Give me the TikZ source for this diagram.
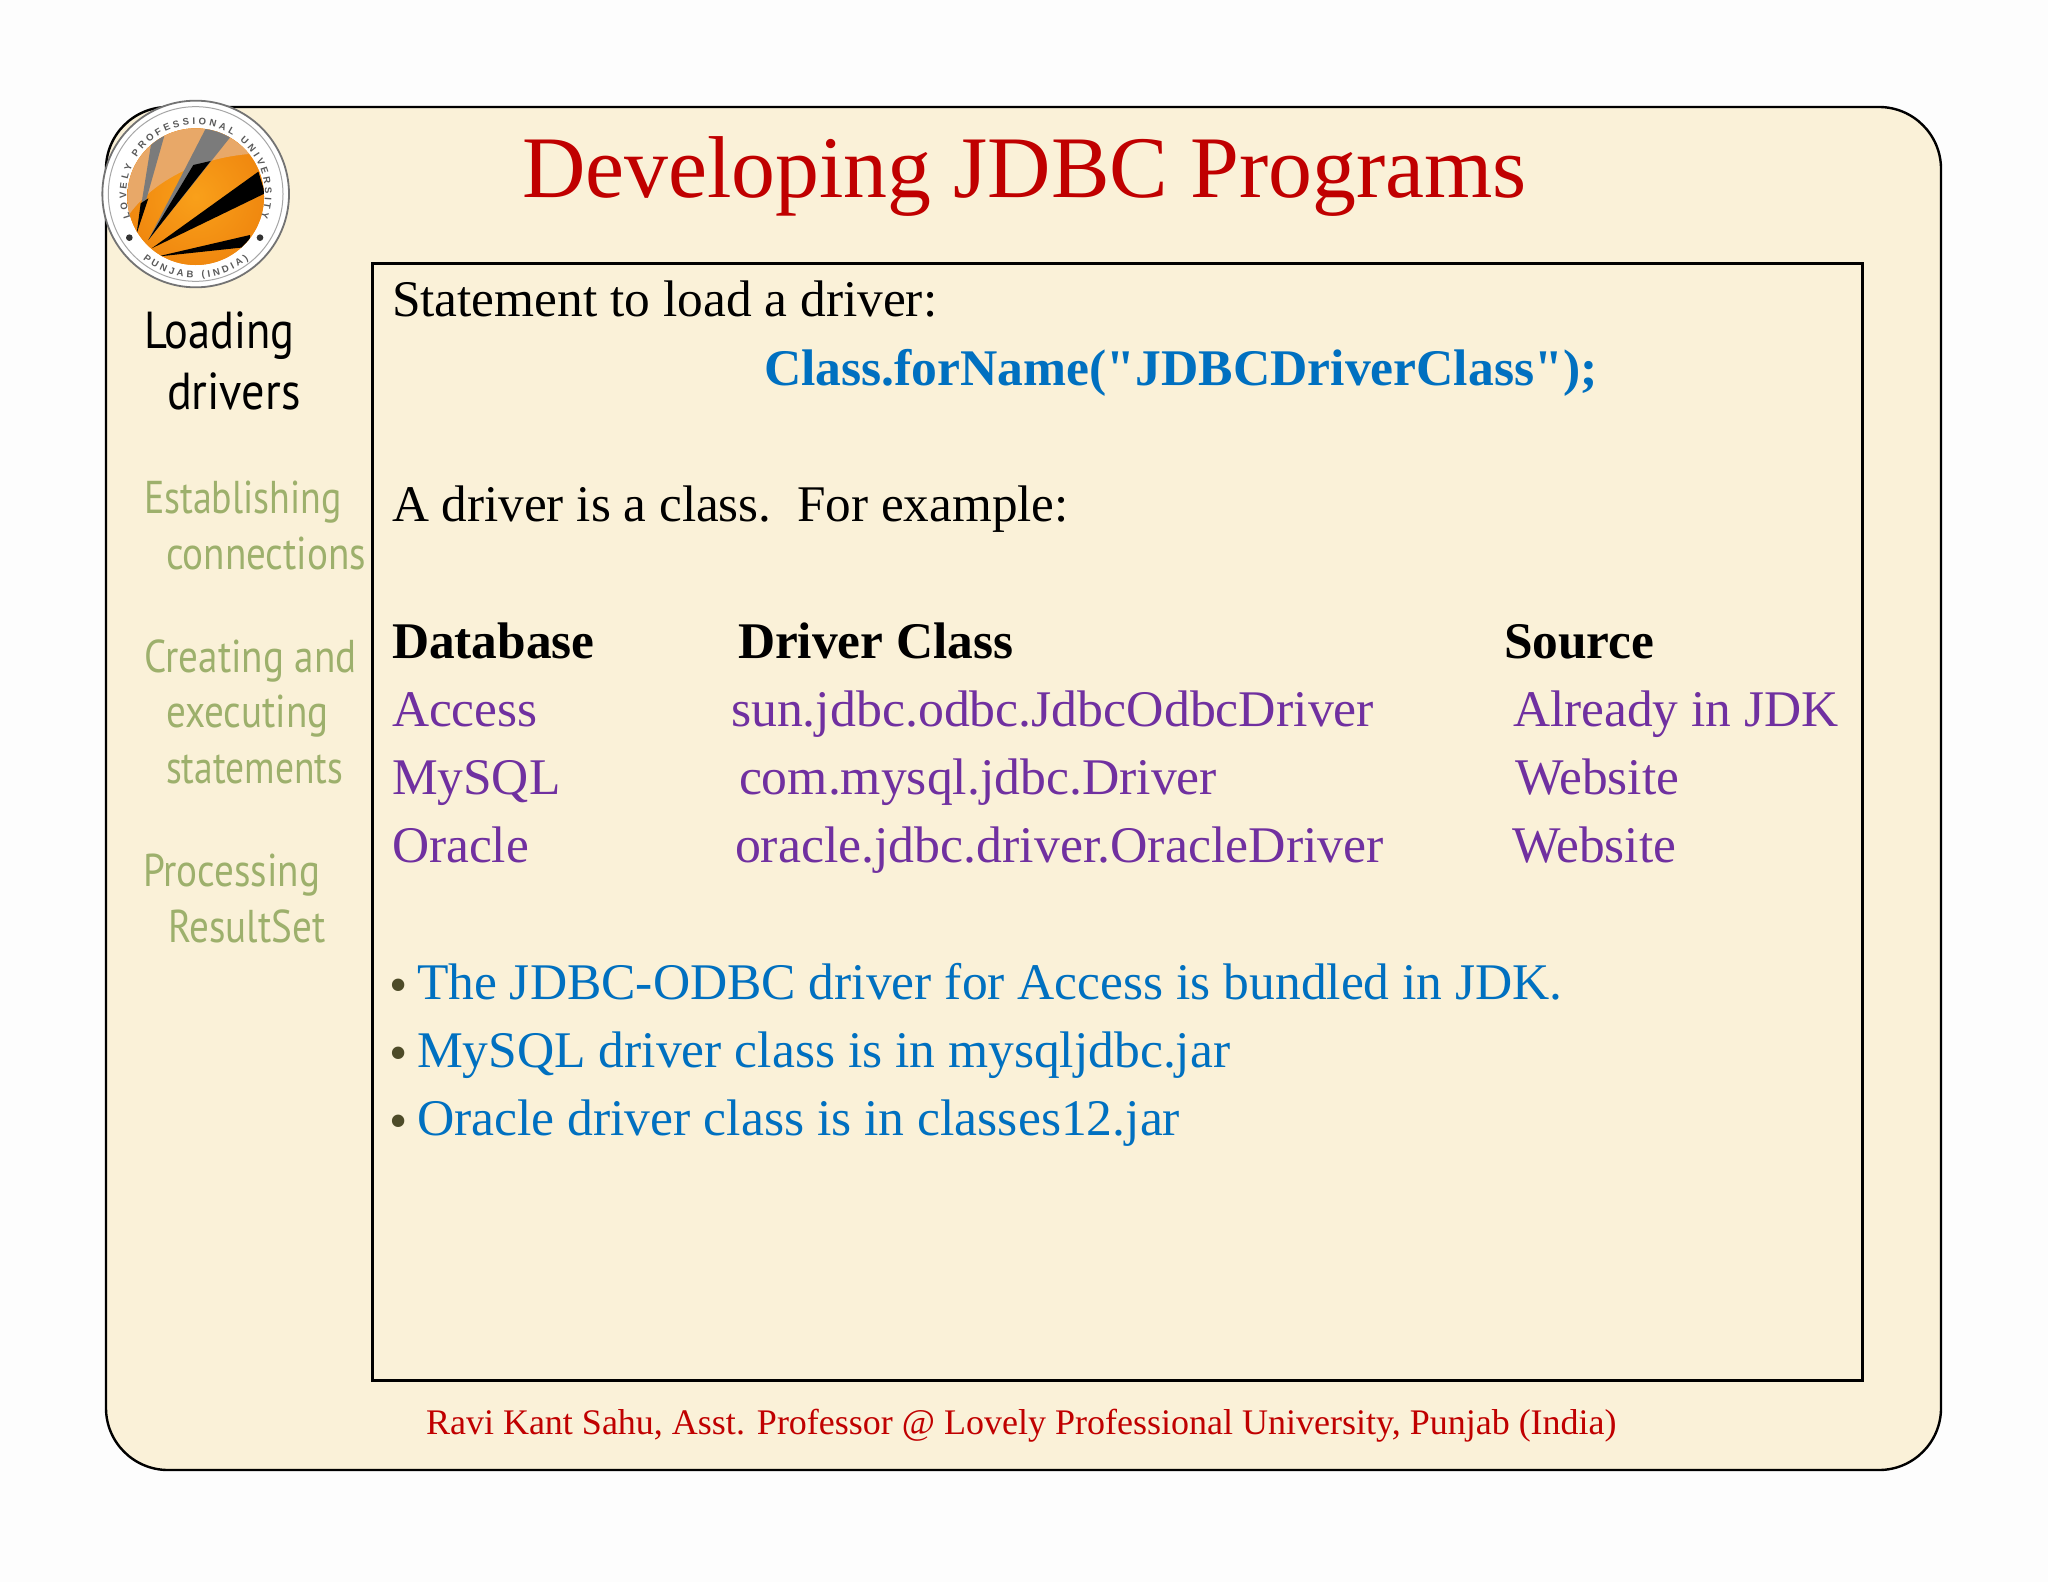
\documentclass[tikz,border=0pt]{standalone}
\usepackage{fontspec}
\setmainfont{Liberation Serif}
\newfontfamily\codefont{Liberation Serif}
\newfontfamily\sidefont{PT Sans}
\newfontfamily\logofont{Liberation Sans}
\usetikzlibrary{decorations.text,shadings}
\definecolor{paper}{HTML}{FDFDFD}
\definecolor{cream}{HTML}{FAF1D8}
\definecolor{titlered}{HTML}{C00000}
\definecolor{bodyblue}{HTML}{0070C0}
\definecolor{bodypurple}{HTML}{7030A0}
\definecolor{sidegreen}{HTML}{9DB06C}
\definecolor{bulletdark}{HTML}{4D4B28}
\definecolor{logoorange}{HTML}{F0880F}
\definecolor{logoglow}{HTML}{F9A01A}
\definecolor{logolight}{HTML}{E8A868}
\definecolor{logogrey}{HTML}{7B7B7B}
\tikzset{
  txt/.style={anchor=base west,inner sep=0pt,outer sep=0pt},
  body/.style={txt,font=\fontsize{25.7}{30}\selectfont},
  head/.style={body,font=\fontsize{25.7}{30}\selectfont\bfseries},
  blue/.style={body,text=bodyblue},
  purple/.style={body,text=bodypurple},
  bulletmark/.style={txt,text=bulletdark,font=\fontsize{26}{30}\selectfont},
  side/.style={txt,font=\sidefont\fontsize{26}{28}\selectfont,xscale=0.855},
  sideoff/.style={txt,text=sidegreen,font=\sidefont\fontsize{23}{26}\selectfont,xscale=0.85},
  wedgeblack/.style={fill=black,draw=none},
  wedgegrey/.style={fill=logogrey,draw=none},
  ringtext/.style={decorate,decoration={text along path,text align={fit to path},
     text={|\logofont\fontsize{4.8}{6}\selectfont\bfseries\color{black!65}|#1}}},
}
\begin{document}
\begin{tikzpicture}[x=0.5pt,y=-0.5pt]
\useasboundingbox (0,0) rectangle (2048,1582);
\fill[paper] (0,0) rectangle (2048,1582);
\draw[line width=1.2pt,fill=cream,rounded corners=31pt] (106,107) rectangle (1941,1470);
\draw[line width=1.5pt] (372,264) rectangle (1862,1380);

% title and footer
\node[txt,text=titlered,font=\fontsize{43.9}{50}\selectfont] (title) at (522,198) {Developing JDBC Programs};
\node[txt,text=titlered,font=\fontsize{18}{22}\selectfont] (footer) at (426,1434) {Ravi Kant Sahu, Asst. Professor @ Lovely Professional University, Punjab (India)};

% sidebar
\node[side] (s1) at (144,349) {Loading};
\node[side,xscale=1.04] (s2) at (167,410) {drivers};
\node[sideoff,xscale=0.97] (s3) at (144,514) {Establishing};
\node[sideoff] (s4) at (166,570) {connections};
\node[sideoff] (s5) at (144,672) {Creating and};
\node[sideoff] (s6) at (166,727) {executing};
\node[sideoff,xscale=0.96] (s7) at (166,783) {statements};
\node[sideoff] (s8) at (143,886) {Processing};
\node[sideoff] (s9) at (168,942) {ResultSet};

% body
\node[body] (l1) at (392,317) {Statement to load a driver:};
\node[head,text=bodyblue,font=\codefont\fontsize{25.7}{30}\selectfont\bfseries,xscale=1.005] (l2) at (764,386) {Class.forName("JDBCDriverClass");};
\node[body,xscale=0.996] (l3) at (392,522) {A driver is a class.\ \ For example:};
\node[head] (h1) at (392,658) {Database};
\node[head] (h2) at (738,658) {Driver Class};
\node[head] (h3) at (1504,658) {Source};
\node[purple] (a1) at (392,726) {Access};
\node[purple,xscale=1.008] (a2) at (731,726) {sun.jdbc.odbc.JdbcOdbcDriver};
\node[purple] (a3) at (1513,726) {Already in JDK};
\node[purple] (b1) at (392,794) {MySQL};
\node[purple,xscale=1.0055] (b2) at (739,794) {com.mysql.jdbc.Driver};
\node[purple] (b3) at (1515,794) {Website};
\node[purple] (c1) at (392,862) {Oracle};
\node[purple,xscale=1.008] (c2) at (735,862) {oracle.jdbc.driver.OracleDriver};
\node[purple] (c3) at (1512,862) {Website};
\node[bulletmark] (d1) at (389,1002) {•};
\node[blue,xscale=1.002] (e1) at (417,999) {The JDBC-ODBC driver for Access is bundled in JDK.};
\node[bulletmark] (d2) at (389,1070) {•};
\node[blue,xscale=1.003] (e2) at (417,1067) {MySQL driver class is in mysqljdbc.jar};
\node[bulletmark] (d3) at (389,1138) {•};
\node[blue,xscale=1.005] (e3) at (417,1135) {Oracle driver class is in classes12.jar};

% logo, in the coordinates of a 3x crop at (90,90)
\begin{scope}[x=0.166667pt,y=-0.166667pt,shift={(270,270)}]
  \draw[fill=white,draw=black!55,line width=0.9pt] (317,312) circle[radius=280];
  \draw[draw=black!35,line width=0.5pt] (317,312) circle[radius=262];
  \begin{scope}
    \clip (317,320) circle[radius=205];
    \fill[logoorange] (100,100) rectangle (530,530);
    \shade[inner color=logoglow,outer color=logoorange] (317,320) circle[radius=205];
    \fill[logolight] (100,100) -- (100,400) .. controls (170,280) and (330,190) .. (530,190) -- (530,100) -- cycle;
    \fill[wedgegrey] (140,430) -- (190,120) -- (228,120) -- cycle;
    \fill[wedgegrey] (175,450) -- (350,110) -- (430,130) -- cycle;
    \fill[wedgeblack] (140,430) -- (152,340) -- (175,325) -- cycle;
    \fill[wedgeblack] (175,450) -- (310,225) -- (362,213) -- cycle;
    \fill[wedgeblack] (185,475) -- (505,245) -- (525,310) -- cycle;
    \fill[wedgeblack] (200,500) -- (480,435) -- (480,470) -- cycle;
  \end{scope}
  \path[ringtext={LOVELY PROFESSIONAL UNIVERSITY}] (317,312) ++(160:208) arc[start angle=160,end angle=380,radius=208];
  \path[ringtext={PUNJAB (INDIA)}] (317,312) ++(129:252) arc[start angle=129,end angle=51,radius=252];
  \fill[black!80] (118,443) circle[radius=10] (510,443) circle[radius=10];
\end{scope}
\end{tikzpicture}
\end{document}
